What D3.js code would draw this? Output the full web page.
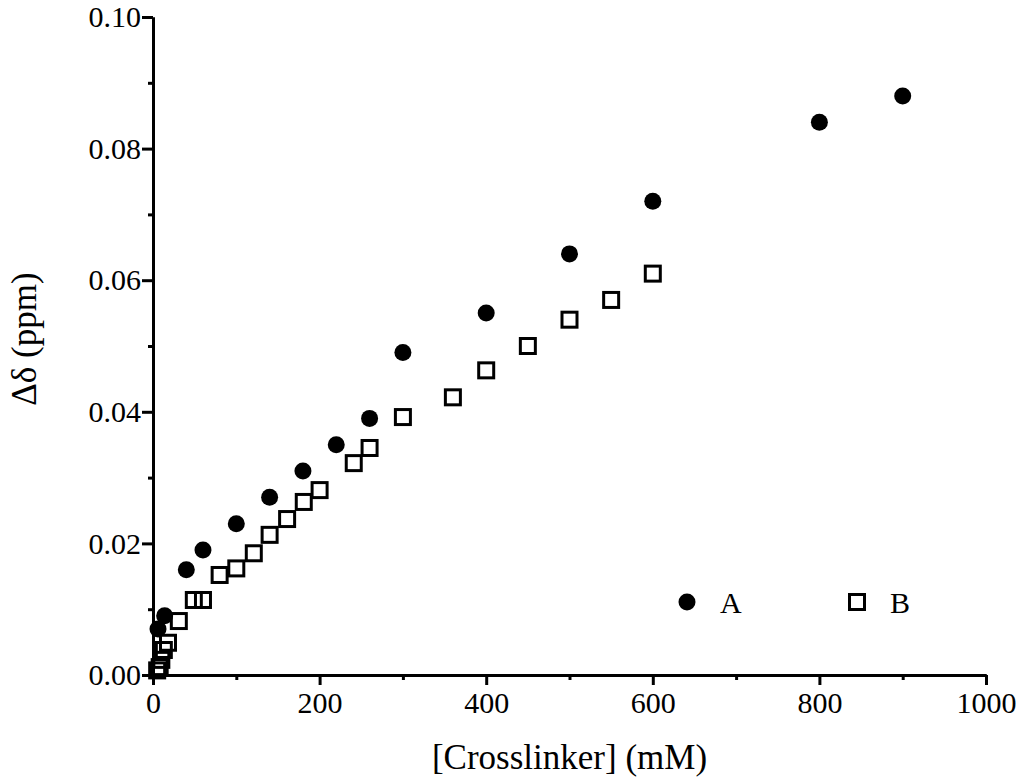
<!DOCTYPE html>
<html><head><meta charset="utf-8">
<script src="https://cdn.jsdelivr.net/npm/d3@7"></script>
<style>body{margin:0;background:#fff}svg{display:block}
svg text{font-family:'Liberation Serif','Times New Roman',serif;fill:#000}</style>
</head><body>
<script>
const seriesNames = ["A", "B"];
const xA = [6, 14, 40, 60, 100, 140, 180, 220, 260, 300, 400, 500, 600, 800, 900];
const yA = [0.007, 0.009, 0.016, 0.019, 0.023, 0.027, 0.031, 0.035, 0.039, 0.049, 0.055, 0.064, 0.072, 0.084, 0.088];
const xB = [5, 8, 10, 13, 18, 31, 49, 60, 80, 100, 121, 140, 161, 181, 200, 241, 260, 300, 360, 400, 450, 500, 550, 600];
const yB = [0.0007, 0.0012, 0.0023, 0.0038, 0.0049, 0.0082, 0.0114, 0.0114, 0.0152, 0.0162, 0.0185, 0.0213, 0.0237, 0.0263, 0.0281, 0.0322, 0.0345, 0.0392, 0.0422, 0.0463, 0.050, 0.054, 0.057, 0.061];
const xTicks = [0, 200, 400, 600, 800, 1000];
const xMinor = [100, 300, 500, 700, 900];
const yTicks = [0, 0.02, 0.04, 0.06, 0.08, 0.10];
const yMinor = [0.01, 0.03, 0.05, 0.07, 0.09];
const xTitle = "[Crosslinker] (mM)";
const yTitle = "Δδ (ppm)";

const W = 1024, H = 779;
const svg = d3.select("body").append("svg").attr("width", W).attr("height", H);
const x = d3.scaleLinear().domain([0, 1000]).range([153, 986]);
const y = d3.scaleLinear().domain([0, 0.1]).range([675, 17]);

// axes
svg.append("g").attr("transform", "translate(0,675)")
  .call(d3.axisBottom(x).tickValues(xMinor).tickFormat("").tickSize(5).tickSizeOuter(0));
svg.append("g").attr("transform", "translate(0,675)")
  .call(d3.axisBottom(x).tickValues(xTicks).tickFormat(d3.format("d")).tickSize(10).tickSizeOuter(0).tickPadding(7));
svg.append("g").attr("transform", "translate(153,0)")
  .call(d3.axisLeft(y).tickValues(yMinor).tickFormat("").tickSize(5).tickSizeOuter(0));
svg.append("g").attr("transform", "translate(153,0)")
  .call(d3.axisLeft(y).tickValues(yTicks).tickFormat(d3.format(".2f")).tickSize(11).tickSizeOuter(0).tickPadding(1));
svg.selectAll(".domain").attr("stroke", "#000").attr("stroke-width", 3);
svg.selectAll(".tick line").attr("stroke", "#000").attr("stroke-width", 3);
svg.selectAll(".tick text").style("font-family", "'Liberation Serif','Times New Roman',serif").style("font-size", "30px").attr("fill", "#000");
svg.selectAll("g").attr("font-family", null);

// titles
svg.append("text").attr("x", (x(0) + x(1000)) / 2).attr("y", 769).attr("text-anchor", "middle")
  .style("font-size", "35px").text(xTitle);
svg.append("text").attr("transform", "translate(36,339) rotate(-90)").attr("text-anchor", "middle")
  .style("font-size", "35px").text(yTitle);

// series B squares
const s = 15;
svg.append("g").selectAll("rect").data(xB.map((d, i) => [d, yB[i]])).join("rect")
  .attr("x", d => x(d[0]) - s / 2).attr("y", d => y(d[1]) - s / 2)
  .attr("width", s).attr("height", s)
  .attr("fill", "none").attr("stroke", "#000").attr("stroke-width", 3);
// series A circles
svg.append("g").selectAll("circle").data(xA.map((d, i) => [d, yA[i]])).join("circle")
  .attr("cx", d => x(d[0])).attr("cy", d => y(d[1])).attr("r", 8.5).attr("fill", "#000");

// legend
const lg = svg.append("g");
lg.append("circle").attr("cx", 687).attr("cy", 602).attr("r", 8.5).attr("fill", "#000");
lg.append("text").attr("x", 720).attr("y", 613).style("font-size", "30px").text(seriesNames[0]);
lg.append("rect").attr("x", 857 - s / 2).attr("y", 602 - s / 2).attr("width", s).attr("height", s)
  .attr("fill", "none").attr("stroke", "#000").attr("stroke-width", 3);
lg.append("text").attr("x", 890).attr("y", 613).style("font-size", "30px").text(seriesNames[1]);
</script>
</body></html>
